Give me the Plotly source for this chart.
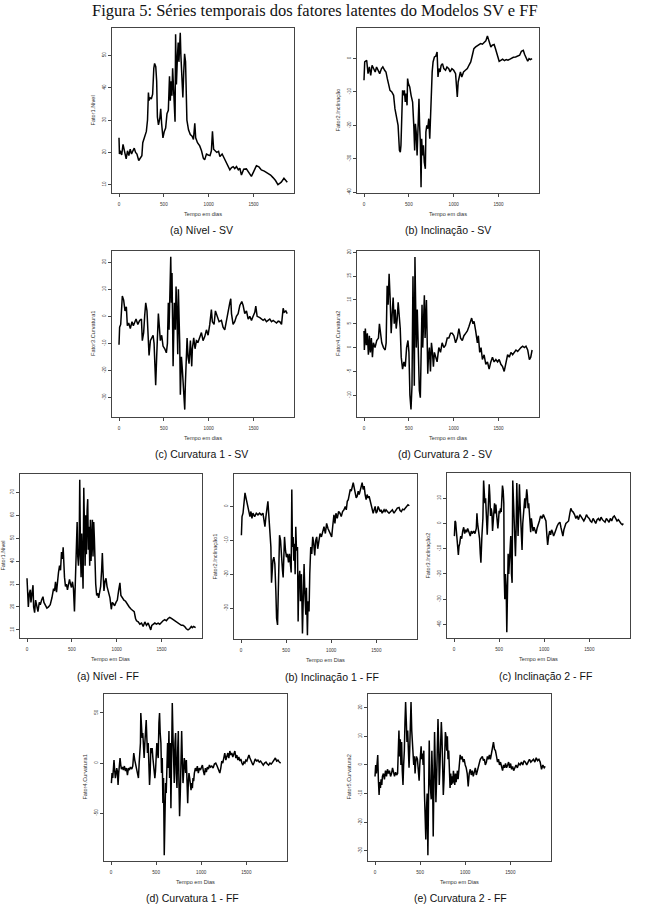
import plotly.graph_objects as go

# ---------------- DATA ----------------
dias_nivel_sv = [0,5,15,30,45,55,70,80,95,110,125,140,155,170,185,200,220,240,255,265,280,295,305,318,328,335,345,360,375,388,397,410,420,428,440,455,465,475,490,505,520,535,550,563,572,582,590,598,608,618,625,631,640,652,660,668,676,683,690,700,712,722,731,742,757,775,795,815,830,845,855,875,900,920,940,955,975,995,1015,1030,1042,1055,1069,1090,1110,1125,1150,1180,1205,1236,1255,1273,1290,1310,1330,1347,1365,1390,1420,1445,1476,1500,1532,1560,1587,1620,1661,1690,1717,1745,1772,1809,1839,1860,1876]
nivel_sv = [24.5,19.5,20.5,19.2,22.5,21,19.5,18,20.5,19,21,19.5,20.5,21.3,20,19.5,17.5,18.5,19,23,24.5,25.5,26.5,30,38.5,36,37,36.5,38,46,47.5,46.5,42,31,28.5,30.5,33.5,29,24.5,26.5,27.5,32,33,43.5,36,42,37.5,46,38,35,29.5,56.5,41,50,54,48,52,57,50,44,37,45,50.5,48,30,27,25.5,25,24,29,24.5,23,22,20.5,18.2,17.7,19.5,19.2,19,20.5,26.5,21,20.5,20,20.3,18.7,19.5,17.7,16.5,14.6,15.3,15.6,15,15.6,14.6,15.1,13,14.8,14.9,13.8,12.6,14,15.9,15.5,14.6,14.2,13.6,13,12.2,11.3,10,10.8,12,11.2,10.8]

dias_incl_sv = [0,8,30,45,60,75,90,110,125,140,160,175,195,210,230,245,260,275,290,310,330,345,365,380,395,405,412,420,430,441,450,460,470,480,486,495,510,525,542,555,565,573,582,592,602,613,620,628,636,643,652,662,672,684,690,700,710,722,733,740,748,760,770,785,800,815,825,835,848,860,875,890,909,925,945,960,980,1000,1021,1032,1040,1050,1060,1075,1090,1110,1130,1152,1170,1190,1208,1225,1245,1265,1283,1300,1320,1340,1358,1376,1390,1400,1414,1430,1451,1465,1480,1495,1507,1525,1545,1565,1585,1605,1625,1645,1665,1690,1715,1735,1755,1776,1790,1805,1825,1840,1855,1874]
incl_sv = [-6.5,-1,-0.5,-4.5,-2.5,-5,-2,-3.5,-4,-2.5,-3.5,-4.5,-3,-2.5,-3.5,-4,-6,-8,-9.5,-10,-11,-15,-18,-20,-27.5,-28,-26,-14,-9.5,-11,-9.5,-13,-10.5,-14,-6,-7.5,-8.5,-11,-13,-20,-27.5,-19.5,-22,-29,-20,-12,-20,-25,-38.5,-24,-29,-26,-31,-33,-22,-20,-21,-18,-24,-17,-10,-4,-1,0.5,0.7,2,-5.5,-3,-4,-2,-1.5,-3,-3.5,-2.5,-3,-4,-3,-3.5,-4.5,-10,-11.5,-7,-6,-4,-5.5,-4,-3.5,-3,-2,-1,1,3,3.5,3.8,4,4.5,4.3,5,5.3,6.8,5.5,4.5,3.5,4,4.2,3,1.5,0.5,-0.8,-0.5,-0.2,-0.6,-0.3,-0.5,-0.2,0.2,0.4,0.5,0.8,1,2.2,2.5,1.3,0.5,-0.8,0,-0.3,0]

dias_curv1_sv = [0,7,19,30,37,52,67,82,93,108,126,145,160,190,210,230,250,260,275,286,298,312,324,335,350,365,380,391,400,409,420,428,439,450,461,476,491,510,528,540,550,558,569,577,584,591,603,610,617,629,636,647,655,662,670,677,684,696,707,714,725,733,740,751,759,770,781,796,811,818,833,848,863,882,900,919,937,956,975,993,1012,1030,1041,1060,1075,1094,1116,1142,1160,1179,1198,1216,1235,1246,1254,1272,1290,1309,1328,1347,1369,1384,1402,1421,1440,1458,1477,1495,1514,1525,1540,1570,1607,1625,1644,1662,1681,1700,1719,1738,1756,1775,1793,1812,1830,1842,1860,1875]
curv1_sv = [-10.5,-4,-3,5,7.5,6,2,3.5,-3.5,-2.5,-4.5,-2,-3.5,-1,-3,-1.5,-1,-9,-6,0,5,2,-6,-14.5,-9,-8,-7,-10,-20,-25.5,-15,-4,1,-4,-9,-7,-11,-12,-13.5,-10,5,-5,10,22,5,16,-18.5,-2,5,-5,11,0,-14,10,0,-10,-29,-15,-20,-25,-32,-34.5,-25,-17.5,-8,-15,-17.5,-9,-18.5,-12,-8,-12,-9,-9.5,-8,-6,-9,-7.5,-5,-7,-3,2.5,-2,-3,2,0,-2,-1.5,-4,-5,-1,1,5,6.5,1,-3,-2,0,1,4,5.5,4,1,2,-1,0,-1.5,0,1.5,3.8,0,-0.5,-1.5,-1,-2,-1.5,-1,-2,-1.5,-2,-2.5,-1.8,-2,-3,3,1.5,2,1]

dias_curv2_sv = [0,4,15,26,37,49,60,71,82,94,105,123,142,161,172,183,198,217,236,247,258,269,280,292,303,314,325,337,348,359,370,381,393,404,415,430,445,460,475,490,501,512,524,535,546,554,561,568,576,583,594,606,617,628,640,647,655,662,673,681,688,696,703,711,718,729,741,752,763,774,785,797,815,834,853,871,890,909,928,946,965,984,1002,1021,1040,1058,1077,1096,1114,1133,1152,1171,1189,1200,1215,1227,1245,1264,1275,1290,1305,1320,1339,1358,1376,1395,1414,1432,1451,1470,1489,1507,1526,1545,1563,1582,1601,1620,1638,1657,1676,1694,1713,1732,1750,1769,1788,1806,1825,1844,1859,1874]
curv2_sv = [3.5,-0.5,4,0.5,3,-1.5,2.5,-1,2,-2,1,0,1.5,2,5,3,1,0,-0.5,1,13,9,15.5,10,3,7,10.5,5,8,4,6,9.5,7,4,-2,-4.5,-3,-4,0,1.5,-1,-10,-13,-8,15,5,-8,19,7,0,8,-1,-9,-10.5,5,9,0,5,11,2,6,10,3,-5.5,-2,0,-5,1,-1,-4,-1,-2,-3,0,-1,1,0,0.5,2,2,3,3,2.5,1,2,4,2,1.5,2.5,3,3.5,4.5,5.5,6.2,5,5.5,3.5,1,2.5,-1,0,-2.5,-1.5,-3.5,-3,-4.5,-3,-2,-3,-2.5,-3,-2.5,-3.5,-4,-5,-3,-1.5,-2,-1,-1.5,-1,-0.5,-0.8,-0.3,0,0.3,0,0.3,-0.5,-2.5,-2,-0.5]

dias_nivel_ff = [0,7,15,26,37,44,55,67,74,85,96,111,122,137,148,163,178,189,204,222,240,259,278,296,307,318,329,340,351,363,374,385,396,403,410,418,429,440,451,463,474,485,496,507,518,529,537,548,559,566,574,581,588,596,603,610,618,625,633,640,648,655,662,670,677,684,692,699,707,714,722,729,736,744,751,758,766,777,788,799,810,821,832,840,847,858,869,881,892,903,914,925,940,951,962,977,992,1007,1021,1036,1047,1062,1081,1099,1121,1140,1162,1177,1195,1210,1221,1240,1258,1277,1295,1314,1332,1351,1369,1380,1391,1406,1425,1443,1462,1480,1499,1517,1536,1554,1573,1591,1610,1628,1647,1665,1684,1702,1721,1739,1758,1776,1795,1813,1832,1843,1858,1880]
nivel_ff = [32.5,25,20,26,27.5,22,27,29.5,20,17.5,23,20,18,22,21,23,24.5,22,21,19.5,20,21,24,28,27,31,26.5,33,35,38,36,44,41,46,39,33,29,30,27.5,31,32,30,28.5,31,28,18,28,33,57,42,38,43,75.5,45,33,52,37,28,72,48,38,60,43,62,67,45,55,38,58,40,48,58,42,57,50,38,30,25,26,24,27,29,36,43.5,36,27,31,32.5,29,27,25,24,19,22,21.5,20.5,22,23,27,30.5,25,24,23,22.5,21,20,19,18.5,18,15,14,13.5,12.5,13,11.5,13.5,12,13,11,10,12,12.5,13,12.5,13,12.5,13.5,14,14.5,14,15,15.5,15,14.5,14,13.5,13,12.5,12,12,11.5,10.5,10,10.5,11.5,11,11.5,11]

dias_incl1_ff = [4,11,22,33,44,55,66,77,88,99,110,121,132,151,169,188,206,224,243,254,265,276,287,298,309,320,331,338,346,353,364,375,386,394,405,412,420,427,438,449,460,467,475,482,493,504,515,526,537,548,556,563,570,578,585,592,600,607,615,626,633,640,651,659,670,681,688,699,707,718,725,736,743,754,762,773,784,795,806,817,828,839,850,861,876,891,905,920,935,949,964,979,994,1005,1016,1030,1041,1052,1067,1082,1097,1111,1126,1141,1156,1167,1178,1189,1200,1211,1222,1233,1244,1255,1266,1277,1288,1299,1310,1321,1332,1343,1354,1365,1376,1387,1398,1409,1420,1432,1443,1454,1465,1476,1487,1498,1509,1520,1531,1542,1553,1564,1575,1586,1597,1608,1623,1641,1660,1678,1696,1715,1733,1752,1763,1777,1792,1807,1822,1836,1851,1866]
incl1_ff = [-8.5,-3,-2,1,4,2.5,1,-1,-2,-3,-1.5,-3.5,-2,-3,-2,-2.5,-2,-2.5,-2,-4.5,-6,-3,-1,1.5,-3,-8,-12,-22.5,-18,-16,-15,-17,-25,-33,-35,-28,-12,-8.5,-10,-17,-19,-21,-15,-9,-13,-15,-14,-16.5,-14,-18,-19.5,5,-12,-9,-16,-11,-20,-6,-13,-12,-34,-22,-19,-28,-20,-37.5,-26,-17,-25,-32,-24,-38,-28,-31,-20,-12,-14,-9,-11,-14.5,-10,-9,-12.5,-10,-8,-9,-7,-6,-8,-5,-6.5,-7.5,-8,-9,-6,-2.5,-5,-2,-3.5,-1.5,-2,-3,-1.5,-1,0,-1,1.5,2,3.5,5,4.5,6,7,5.5,4,2.5,3,4.5,3.5,5,5.5,7,5,6,3.5,2,3.5,2.5,3,1.5,1,-0.5,-2,-1,0,-2,-1.5,0,-1,-1.5,-1,-2,-1.5,-1,-1.5,-1,-1.5,-2,-1.5,-1,-2,-1,-0.5,-0.3,-1.2,-1.5,-0.8,-1,-0.5,0,0.5,0.2]

dias_incl2_ff = [4,11,18,26,33,40,48,55,63,74,85,96,107,118,129,140,151,166,180,191,202,217,232,247,254,261,272,283,291,298,309,320,328,335,342,350,361,368,375,383,390,397,405,412,420,427,434,442,449,456,464,471,478,486,493,500,508,515,523,530,537,545,552,556,563,570,578,585,592,600,607,615,622,629,637,644,651,659,666,673,681,688,696,703,710,718,725,732,740,747,754,762,769,776,784,791,799,806,813,821,828,835,843,850,857,865,876,887,898,909,920,931,946,960,975,990,1005,1019,1030,1038,1049,1060,1071,1082,1093,1104,1115,1130,1144,1159,1174,1185,1196,1207,1218,1229,1240,1255,1270,1284,1295,1306,1321,1336,1351,1365,1380,1395,1409,1424,1439,1454,1468,1483,1498,1512,1527,1542,1557,1571,1586,1601,1616,1630,1645,1660,1674,1689,1704,1719,1733,1748,1763,1777,1792,1807,1822,1836,1851,1866,1877]
incl2_ff = [-5,1,0.5,-3,-7,-10,-12.5,-9,-8,-5,-6,-3,-1.5,-4,-2.5,-3.5,-2,-3.5,-5,-3,-4,-3,-4,-2,4,0,-3,-6,-12,-15.5,-5,2,17,13,8,10,0,-4.5,2,7,15.5,11,3,6,4,-3,1,6,8,4,7.5,4,2,-2,1,5,4,6,4.5,12,15,13,8,-20,-30,-20,-25,-43,-25,-12,-20,-15,-9,-5,-20,-23.5,17,8,0,-5,-13,-3,16,5,-5,5,15.5,8,0,-6,-10.5,0,5,7,10,6,12,13.5,11,6,8,4,0,-3.5,2,-1,-3,-1.5,-2.5,-4,-2,-1,1,3,2,3.5,2,1,-5,-8.5,-5,-3,-4.5,-2.5,-3.5,-5,-4,-2,-1,0,0.5,-1.5,-3,-5,-2.5,-1,0,0.5,1,4,6,5,4.5,3.5,2,3,1.5,3.5,2.5,2,1,2,3.5,2.5,2,1,0.5,2,1,0,1.5,2,1,2.5,1.5,1,0.5,2,1,0.5,2,1,2.5,3,2,1,1.5,0.5,0,-0.5,0]

dias_curv1_ff = [4,11,19,26,33,41,48,56,63,70,78,85,93,100,108,115,126,137,148,160,171,182,193,204,215,230,241,252,263,275,286,297,304,312,319,326,330,338,345,352,360,367,375,382,390,397,404,412,419,427,434,441,449,456,464,471,479,486,493,501,508,516,523,531,538,545,553,560,568,575,582,590,597,605,612,620,627,634,642,649,657,664,671,679,686,694,701,709,716,723,731,738,746,753,760,768,775,783,790,798,805,812,820,827,835,842,850,857,864,872,879,887,894,902,909,916,924,935,946,957,968,979,991,1002,1013,1024,1035,1046,1057,1068,1080,1091,1102,1117,1132,1146,1161,1176,1191,1206,1217,1228,1239,1250,1261,1273,1284,1295,1306,1317,1328,1339,1350,1362,1373,1384,1395,1406,1417,1428,1439,1451,1462,1473,1484,1495,1506,1517,1529,1540,1551,1562,1573,1584,1599,1614,1629,1644,1658,1673,1688,1703,1718,1733,1747,1762,1777,1792,1807,1822,1836,1851,1866,1881]
curv1_ff = [-20,-10,-15,-5,3,-8,-15,-10,-5,-8,-22,-10,-3,5,-2,-6,-4,-7,-3,-8,-5,-12,-5,-7,-4,-6,-3,10,3,-2,-5,-12,-15,0,10,20,50,35,25,30,15,5,20,30,43,25,10,20,5,-22,-10,15,10,15,5,0,-5,-15,-8,5,20,10,5,40,50,30,20,-10,5,-40,-15,-92,-40,-20,-30,10,20,-5,32,-15,20,-45,10,60,30,0,-20,20,30,-10,-25,10,32,-20,-53,-30,5,32,5,-20,-10,5,0,-10,3,-15,-40,-20,-10,-15,-20,-27,-20,-25,-15,-18,-10,-5,-8,-3,-10,-5,-7,-3,-2,-8,-12,-5,-9,-4,-6,-2,-4,-3,-5,-1,0,-3,-6,-10,-5,2,0,5,10,3,7,10,5,12,8,10,6,10,12,5,8,3,6,2,4,0,-2,1,0,3,2,5,8,5,2,0,-2,0,4,2,3,1,2,0,-2,0,1,-1,-2,0,-1,1,3,5,2,3,1,0]

dias_curv2_ff = [0,7,15,22,30,37,45,52,60,67,75,82,93,104,116,127,138,149,160,172,183,194,205,216,228,239,250,257,265,272,280,287,295,302,310,317,325,332,339,347,354,362,369,377,384,392,399,407,414,421,429,436,444,451,459,470,481,489,496,504,511,518,526,533,541,548,556,563,571,578,586,593,601,608,615,623,630,638,645,653,660,668,675,683,690,698,705,712,720,727,735,742,750,757,765,772,780,787,795,802,809,817,824,832,839,847,854,862,869,877,884,891,899,906,914,921,933,944,955,966,977,988,1000,1011,1022,1033,1044,1056,1067,1078,1089,1100,1112,1123,1134,1145,1156,1167,1179,1190,1201,1212,1223,1235,1246,1257,1268,1279,1291,1302,1313,1324,1335,1347,1358,1369,1380,1391,1402,1414,1425,1436,1447,1458,1470,1481,1492,1503,1514,1526,1537,1548,1563,1578,1593,1608,1623,1638,1652,1667,1682,1697,1712,1727,1742,1757,1772,1787,1802,1817,1831,1846,1861,1876,1887]
curv2_ff = [-4,0,-3,0,3.5,-5,-10.5,-6,-8,-5,-7,-4,-3,-5,-2,-4,-1.5,-3,-2,-4,-3,-1,-2.5,-4,-2.5,-3.5,-3,5,12,3,9,0,8,-2,-7,0,5,15,22,15,8,12,3,-1,5,15,22,12,8,4,0,3,-3,1,3,2,-2,-5.5,0,3,6.5,2,4,0,5,-10,-22,-26,-15,-10,-31.5,-15,8.5,-5,-10,-12,5,-5,-25,-10,11.5,0,-13,-5,5,16,8,-7,0,5,15,10,-2,-10.5,-5,5,11.5,10,5,10,2,5,-2,-8,-3,-7,-4,-6.5,-2,-5,-7,-3,-6,-4,-2,-5,1,3.5,2,3,1,2,0,-1,-3,-7.5,-3,-1.5,-3.5,-2,-4,-2,-1,-3.5,-2,0,1,2,2.5,3,1.5,2,0,1,3,2,3.5,2,4,6,8,5.5,5,3,1,2,0,1,-1,-2,0,-1,0.5,-1,0,1,-1,0.5,-1.5,-0.5,-2,-1,0,-1,0.5,0,1,0,1.5,1,0,1,2,1,1.5,2,1,2.5,1.5,2,1,-1.5,0,-1,-0.5]

# tick labels
x_ticks = [0, 500, 1000, 1500]
y_ticks_nivel_sv = [10, 20, 30, 40, 50]
y_ticks_incl_sv = [0, -10, -20, -30, -40]
y_ticks_curv1_sv = [20, 10, 0, -10, -20, -30]
y_ticks_curv2_sv = [20, 15, 10, 5, 0, -5, -10]
y_ticks_nivel_ff = [10, 20, 30, 40, 50, 60, 70]
y_ticks_incl1_ff = [0, -10, -20, -30]
y_ticks_incl2_ff = [10, 0, -10, -20, -30, -40]
y_ticks_curv1_ff = [50, 0, -50]
y_ticks_curv2_ff = [20, 10, 0, -10, -20, -30]

# ---------------- LAYOUT ----------------
W, H = 650, 908

def fx(p):
    return p / W

def fy(p):
    return 1 - p / H

panels = [
    dict(x=dias_nivel_sv, y=nivel_sv, box=(112, 294, 26, 192), yr=(7.4, 58.5), yt=y_ticks_nivel_sv,
         ytitle="Fator1.Nivel", xtitle="Tempo em dias", cap="(a) Nível - SV", capx=201, capy=229, ytx=93),
    dict(x=dias_incl_sv, y=incl_sv, box=(357, 539, 26, 192), yr=(-40.3, 9.2), yt=y_ticks_incl_sv,
         ytitle="Fator2.Inclinação", xtitle="Tempo em dias", cap="(b) Inclinação - SV", capx=448, capy=229, ytx=338),
    dict(x=dias_curv1_sv, y=curv1_sv, box=(112, 294, 250, 417), yr=(-37.3, 24.2), yt=y_ticks_curv1_sv,
         ytitle="Fator3.Curvatura1", xtitle="Tempo em dias", cap="(c) Curvatura 1 - SV", capx=201, capy=454, ytx=93),
    dict(x=dias_curv2_sv, y=curv2_sv, box=(357, 539, 250, 417), yr=(-14.6, 20.3), yt=y_ticks_curv2_sv,
         ytitle="Fator4.Curvatura2", xtitle="Tempo em dias", cap="(d) Curvatura 2 - SV", capx=445, capy=454, ytx=338),
    dict(x=dias_nivel_ff, y=nivel_ff, box=(20, 202, 474, 639), yr=(6.4, 78), yt=y_ticks_nivel_ff,
         ytitle="Fator1.Nivel", xtitle="Tempo em Dias", cap="(a) Nível - FF", capx=108, capy=677, ytx=3.5),
    dict(x=dias_incl1_ff, y=incl1_ff, box=(234, 417, 474, 640), yr=(-39.2, 9.6), yt=y_ticks_incl1_ff,
         ytitle="Fator2.Inclinação1", xtitle="Tempo em Dias", cap="(b) Inclinação 1 - FF", capx=332, capy=678, ytx=215),
    dict(x=dias_incl2_ff, y=incl2_ff, box=(447, 630, 473, 639), yr=(-45.4, 20), yt=y_ticks_incl2_ff,
         ytitle="Fator3.Inclinação2", xtitle="Tempo em Dias", cap="(c) Inclinação 2 - FF", capx=545, capy=677, ytx=428),
    dict(x=dias_curv1_ff, y=curv1_ff, box=(104, 287, 695, 863), yr=(-98, 69), yt=y_ticks_curv1_ff,
         ytitle="Fator4.Curvatura1", xtitle="Tempo em Dias", cap="(d) Curvatura 1 - FF", capx=193, capy=900, ytx=85),
    dict(x=dias_curv2_ff, y=curv2_ff, box=(368, 551, 695, 863), yr=(-33.6, 24.8), yt=y_ticks_curv2_ff,
         ytitle="Fator5.Curvatura2", xtitle="Tempo em Dias", cap="(e) Curvatura 2 - FF", capx=460, capy=900, ytx=349),
]

fig = go.Figure()
annotations = []
axis_font = dict(family="Liberation Sans, Arial, sans-serif", size=4.6, color="#333333")
title_font = dict(family="Liberation Sans, Arial, sans-serif", size=5.6, color="#333333")
cap_font = dict(family="Liberation Sans, Arial, sans-serif", size=10.5, color="#111111")

for i, p in enumerate(panels, start=1):
    sfx = "" if i == 1 else str(i)
    x0, x1, y0, y1 = p["box"]
    fig.add_trace(go.Scatter(x=p["x"], y=p["y"], mode="lines",
                             line=dict(color="black", width=1.5),
                             xaxis="x" + sfx, yaxis="y" + sfx, showlegend=False,
                             hoverinfo="skip"))
    common = dict(showgrid=False, zeroline=False, showline=True, mirror=True,
                  linecolor="#444444", linewidth=1, ticks="outside", ticklen=3,
                  tickwidth=0.7, tickcolor="#444444", tickfont=axis_font)
    fig.update_layout(**{
        "xaxis" + sfx: dict(domain=[fx(x0), fx(x1)], range=[-78, 1951],
                            anchor="y" + sfx, tickvals=x_ticks,
                            ticktext=[str(v) for v in x_ticks],
                            ticklabelstandoff=3, **common),
        "yaxis" + sfx: dict(domain=[fy(y1), fy(y0)], range=list(p["yr"]),
                            anchor="x" + sfx, tickvals=p["yt"],
                            ticktext=[str(v) for v in p["yt"]], tickangle=-90,
                            ticklabelstandoff=0, **common),
    })
    annotations.append(dict(x=fx((x0 + x1) / 2), y=fy(y1 + 21), xref="paper", yref="paper",
                            text=p["xtitle"], showarrow=False, font=title_font,
                            xanchor="center", yanchor="middle"))
    annotations.append(dict(x=fx(p["ytx"]), y=fy((y0 + y1) / 2), xref="paper", yref="paper",
                            text=p["ytitle"], showarrow=False, font=title_font, textangle=-90,
                            xanchor="center", yanchor="middle"))
    annotations.append(dict(x=fx(p["capx"]), y=fy(p["capy"]), xref="paper", yref="paper",
                            text=p["cap"], showarrow=False, font=cap_font,
                            xanchor="center", yanchor="middle"))

annotations.append(dict(x=fx(315), y=fy(9), xref="paper", yref="paper",
                        text="Figura 5: Séries temporais dos fatores latentes do Modelos SV e FF",
                        showarrow=False,
                        font=dict(family="Liberation Serif, Times New Roman, serif", size=16.5, color="#111111"),
                        xanchor="center", yanchor="middle"))

fig.update_layout(width=W, height=H, margin=dict(l=0, r=0, t=0, b=0),
                  paper_bgcolor="white", plot_bgcolor="white",
                  annotations=annotations, showlegend=False)

fig.write_html("out.html")
